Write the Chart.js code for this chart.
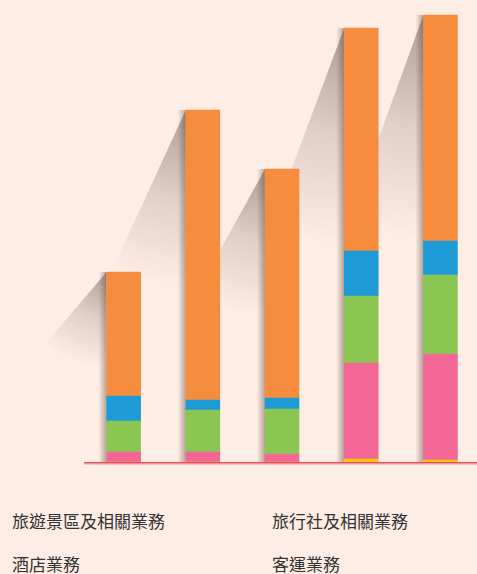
<!DOCTYPE html>
<html>
<head>
<meta charset="utf-8">
<script src="https://cdn.jsdelivr.net/npm/chart.js@4"></script>
<style>
  html, body { margin: 0; padding: 0; background: #feede5; overflow: hidden; }
  #wrap { width: 480px; height: 466px; position: relative; }
  #legenda {
    display: grid;
    grid-template-columns: 260px 220px;
    row-gap: 21px;
    padding: 44px 0 0 12px;
    font-family: "Noto Sans CJK TC", "Noto Sans", sans-serif;
    font-size: 17px;
    color: #333;
    line-height: 22px;
  }
</style>
</head>
<body>
<div id="wrap"><canvas id="grafico"></canvas></div>
<div id="legenda"></div>

<script>
const categorias = ['1', '2', '3', '4', '5'];

const outros = [0, 0, 0, 3, 2];
const transporte = [10, 10, 8, 96, 106];
const hotel = [31, 42, 45, 67, 79];
const agencia = [25, 10, 11, 45, 34];
const turismo = [124, 290, 229, 223, 226];

const rotulosLegenda = ['旅遊景區及相關業務', '旅行社及相關業務', '酒店業務', '客運業務', '其他業務'];

// sombra decorativa atrás das barras
const sombraPlugin = {
    id: 'sombra',
    beforeDatasetsDraw(chart) {
        const ctx = chart.ctx;
        const topo = chart.getDatasetMeta(chart.data.datasets.length - 1).data;
        const base = chart.getDatasetMeta(0).data;
        ctx.save();
        topo.forEach((barra, i) => {
            const esq = barra.x - barra.width / 2;
            const y0 = barra.y;
            const y1 = base[i].base;
            const h = y1 - y0;
            const raio = h * 0.5;

            const g = ctx.createRadialGradient(esq, y0, 0, esq, y0, raio);
            g.addColorStop(0, 'rgba(110, 90, 80, 0.55)');
            g.addColorStop(0.5, 'rgba(110, 90, 80, 0.2)');
            g.addColorStop(1, 'rgba(110, 90, 80, 0)');
            ctx.fillStyle = g;
            ctx.beginPath();
            ctx.moveTo(esq, y0);
            ctx.lineTo(esq - 150, y0 + h * 0.37 * 2.5);
            ctx.lineTo(esq, y0 + h * 0.37 * 2.5);
            ctx.closePath();
            ctx.fill();

            const g2 = ctx.createLinearGradient(esq - 8, 0, esq, 0);
            g2.addColorStop(0, 'rgba(90, 70, 60, 0)');
            g2.addColorStop(1, 'rgba(90, 70, 60, 0.45)');
            ctx.fillStyle = g2;
            ctx.fillRect(esq - 8, y0, 8, h);
        });
        ctx.restore();
    },
    afterDatasetsDraw(chart) {
        const ctx = chart.ctx;
        const y = chart.chartArea.bottom + 0.75;
        ctx.save();
        ctx.fillStyle = 'rgba(232, 78, 90, 0.25)';
        ctx.fillRect(chart.chartArea.left, y + 0.75, chart.width, 1.5);
        ctx.strokeStyle = '#e84e5a';
        ctx.lineWidth = 1.5;
        ctx.beginPath();
        ctx.moveTo(chart.chartArea.left, y);
        ctx.lineTo(chart.width, y);
        ctx.stroke();
        ctx.restore();
    }
};

function serie(label, dados, cor) {
    return {
        label: label,
        data: dados,
        backgroundColor: cor,
        borderWidth: 0,
        barThickness: 34
    };
}

new Chart(document.getElementById('grafico'), {
    type: 'bar',
    data: {
        labels: categorias,
        datasets: [
            serie(rotulosLegenda[4], outros, '#ffc60b'),
            serie(rotulosLegenda[3], transporte, '#f26795'),
            serie(rotulosLegenda[2], hotel, '#8bc653'),
            serie(rotulosLegenda[1], agencia, '#1e9bd6'),
            serie(rotulosLegenda[0], turismo, '#f68c3e')
        ]
    },
    options: {
        responsive: true,
        maintainAspectRatio: false,
        animation: false,
        layout: { padding: { left: 84, top: 0, right: 0, bottom: 4 } },
        plugins: {
            legend: { display: false },
            tooltip: { enabled: false }
        },
        scales: {
            x: { stacked: true, display: false },
            y: { stacked: true, display: false, min: 0, max: 462 }
        }
    },
    plugins: [sombraPlugin]
});

const legenda = document.getElementById('legenda');
rotulosLegenda.forEach(t => {
    const d = document.createElement('div');
    d.textContent = t;
    legenda.appendChild(d);
});
</script>
</body>
</html>
